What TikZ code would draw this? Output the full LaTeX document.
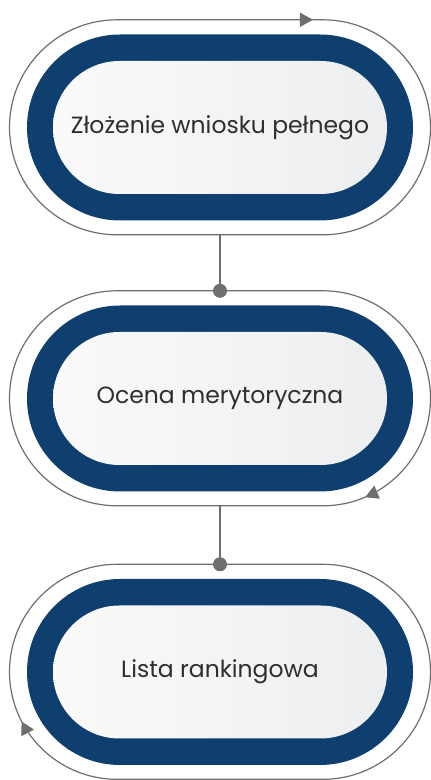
\documentclass[tikz,border=0pt]{standalone}
\usepackage{fontspec}
\setmainfont{Poppins}
\usetikzlibrary{shapes.misc,decorations.markings,arrows.meta}
\definecolor{navy}{HTML}{0E3F6E}
\definecolor{linegrey}{HTML}{6E6E6E}
\definecolor{txt}{HTML}{2E2E2E}
\definecolor{corel}{HTML}{FAFAFA}
\definecolor{corer}{HTML}{EDEEF0}
\begin{document}
\begin{tikzpicture}[x=1pt,y=1pt,
  outerbox/.style={rounded rectangle, minimum width=421pt, minimum height=215pt, inner sep=0pt},
  ring/.style={rounded rectangle, fill=navy, minimum width=386pt, minimum height=186pt, inner sep=0pt},
  core/.style={rounded rectangle, left color=corel, right color=corer, minimum width=334pt, minimum height=133pt, inner sep=0pt, text=txt, font=\fontsize{23.5}{28}\selectfont},
  loopline/.style={draw=linegrey, line width=1.2pt},
  conn/.style={draw=linegrey, line width=1.5pt},
  dotmark/.style={circle, fill=linegrey, minimum size=14pt, inner sep=0pt},
  tipmark/.style={postaction={decorate}, decoration={markings, mark=at position #1 with {\arrow[linegrey]{Triangle[length=13pt,width=14pt]}}}}
]
\useasboundingbox (0,0) rectangle (431,780);

% stage 1
\node[outerbox] (o1) at (220,652.5) {};
\node[ring] (r1) at (o1.center) {};
\node[core] (c1) at (o1.center) {Złożenie wniosku pełnego};
\draw[loopline, tipmark=0.0855] (o1.north) -- ++(103,0) arc[start angle=90,end angle=-90,radius=107.5pt] -- ++(-206,0) arc[start angle=270,end angle=90,radius=107.5pt] -- cycle;

% stage 2
\node[outerbox] (o2) at (220,381.5) {};
\node[ring] (r2) at (o2.center) {};
\node[core] (c2) at (o2.center) {Ocena merytoryczna};
\draw[loopline, tipmark=0.3655] (o2.north) -- ++(103,0) arc[start angle=90,end angle=-90,radius=107.5pt] -- ++(-206,0) arc[start angle=270,end angle=90,radius=107.5pt] -- cycle;

% stage 3
\node[outerbox] (o3) at (220,108) {};
\node[ring] (r3) at (o3.center) {};
\node[core] (c3) at (o3.center) {Lista rankingowa};
\draw[loopline, tipmark=0.7026] (o3.north) -- ++(103,0) arc[start angle=90,end angle=-90,radius=107.5pt] -- ++(-206,0) arc[start angle=270,end angle=90,radius=107.5pt] -- cycle;

% connectors
\draw[conn] (o1.south) -- (o2.north);
\node[dotmark] (d2) at (o2.north) {};
\draw[conn] (o2.south) -- (o3.north);
\node[dotmark] (d3) at (o3.north) {};
\end{tikzpicture}
\end{document}
